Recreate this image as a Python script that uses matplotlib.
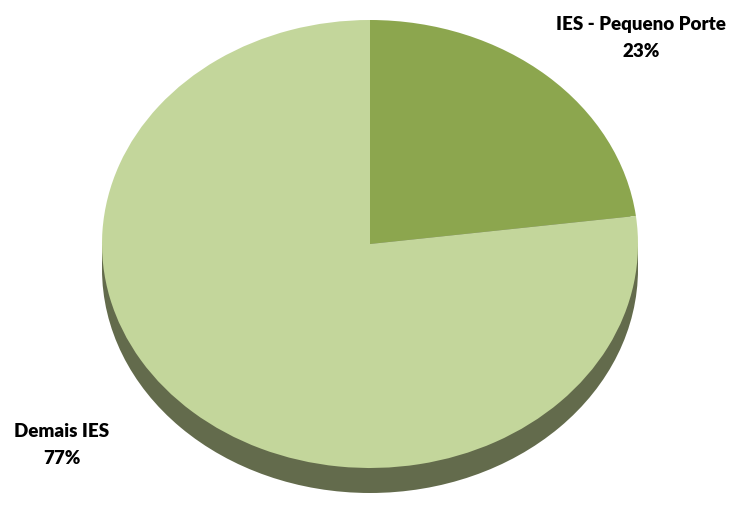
import matplotlib
matplotlib.use("Agg")
from matplotlib import pyplot as plt
from matplotlib.patches import Circle, Rectangle

categorias = ["IES - Pequeno Porte", "Demais IES"]
percentuais = [23, 77]
cores = ["#8CA64E", "#C3D69B"]
cor_lateral = "#636B4C"

# proporcoes da "pizza 3D": raio horizontal 268 px, vertical 224 px, espessura 25 px
W, H = 734, 521
cx, cy = 370, 244
rx, ry = 268, 224
espessura = 25 / ry

fig = plt.figure(figsize=(W / 100, H / 100), dpi=100)
ax = fig.add_axes([0, 0, 1, 1])

# lateral do disco (desenhada antes do topo)
ax.add_patch(Circle((0, -espessura), 1, color=cor_lateral, lw=0))
ax.add_patch(Rectangle((-1, -espessura), 2, espessura, color=cor_lateral, lw=0))

ax.pie(percentuais, colors=cores, startangle=90, counterclock=False,
       wedgeprops=dict(linewidth=0))

ax.set_aspect("auto")
ax.set_xlim(-cx / rx, (W - cx) / rx)
ax.set_ylim(-(H - cy) / ry, cy / ry)
ax.axis("off")

fonte = dict(family="Lato", weight="heavy", fontsize=13.5, ha="center", va="center",
             linespacing=1.7, transform=fig.transFigure)
ax.text(641 / W, 1 - 38 / H, "%s\n%d%%" % (categorias[0], percentuais[0]), **fonte)
ax.text(62 / W, 1 - 445 / H, "%s\n%d%%" % (categorias[1], percentuais[1]), **fonte)

fig.savefig("out.png", dpi=100)
